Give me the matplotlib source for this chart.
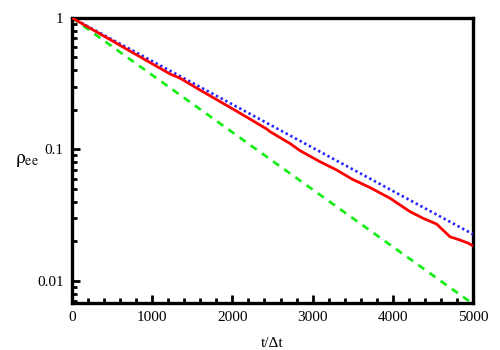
import matplotlib
matplotlib.use("Agg")
import matplotlib.pyplot as plt
from matplotlib.ticker import FixedLocator, FixedFormatter, LogLocator, MultipleLocator, NullFormatter

plt.rcParams["font.family"] = ["Liberation Serif", "DejaVu Serif"]
plt.rcParams["mathtext.fontset"] = "stix"

# red: simulated decay
t_sim = [0, 250, 500, 750, 1000, 1222, 1347, 1600, 1800, 2000, 2200, 2428, 2469,
         2718, 2843, 3092, 3300, 3488, 3716, 3965, 4214, 4377, 4547, 4713, 4838, 4941, 5000]
rho_sim = [1.0, 0.818, 0.67, 0.547, 0.448, 0.375, 0.348, 0.282, 0.240, 0.204, 0.173, 0.143,
           0.1366, 0.111, 0.098, 0.0807, 0.0698, 0.0597, 0.0513, 0.0426, 0.0337, 0.030,
           0.0271, 0.0217, 0.0205, 0.0194, 0.0185]

# blue dotted and green dashed: straight lines on the log axis
t_ref = [0, 5000]
rho_blue = [1.0, 0.0227]
rho_green = [1.0, 0.0067]

y_ticks = [1, 0.1, 0.01]
y_tick_labels = ["1", "0.1", "0.01"]

fig = plt.figure(figsize=(5, 3.5), dpi=100)
ax = fig.add_axes([0.144, 0.134, 0.802, 0.815])

ax.plot(t_ref, rho_green, color="#11ee11", lw=1.9, dashes=(2.8, 2.4), zorder=2)
ax.plot(t_ref, rho_blue, color="#2222ff", lw=1.9, dashes=(0.9, 1.1), zorder=3)
ax.plot(t_sim, rho_sim, color="#ff0000", lw=2.0, zorder=4)

ax.set_yscale("log")
ax.set_xlim(0, 5000)
ax.set_ylim(0.0068, 1)

ax.xaxis.set_major_locator(MultipleLocator(1000))
ax.xaxis.set_minor_locator(MultipleLocator(200))
ax.yaxis.set_major_locator(FixedLocator(y_ticks))
ax.yaxis.set_major_formatter(FixedFormatter(y_tick_labels))
ax.yaxis.set_minor_locator(LogLocator(base=10, subs=range(2, 10)))
ax.yaxis.set_minor_formatter(NullFormatter())

for s in ax.spines.values():
    s.set_linewidth(2.4)
ax.tick_params(which="both", direction="in", top=False, right=False,
               labelsize=11, width=2, pad=6)
ax.tick_params(which="major", length=6)
ax.tick_params(which="minor", length=3.5)

ax.set_xlabel("t/Δt", fontsize=11)
ax.xaxis.set_label_coords(0.5, -0.12)
ax.set_ylabel(r"$\mathrm{\rho_{ee}}$", fontsize=14, rotation=0)
ax.yaxis.set_label_coords(-0.112, 0.47)

fig.savefig("out.png", dpi=100)
